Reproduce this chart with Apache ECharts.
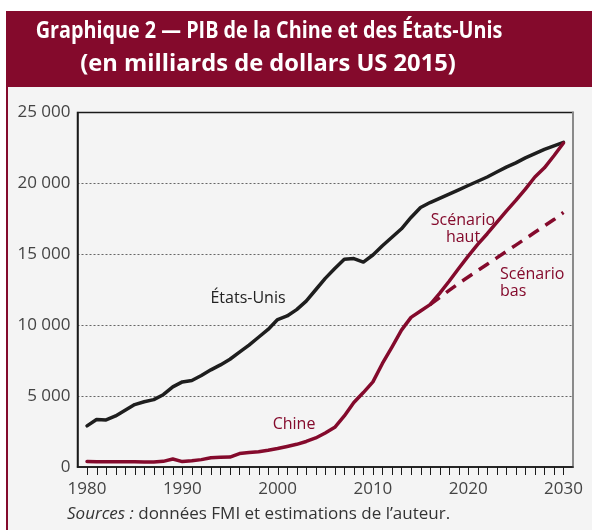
<!DOCTYPE html>
<html>
<head>
<meta charset="utf-8">
<script src="https://cdn.jsdelivr.net/npm/echarts@6/dist/echarts.min.js"></script>
<style>
  html, body { margin: 0; padding: 0; background: #fff; }
  #wrap { position: relative; width: 592px; height: 530px; }
  .band { position: absolute; left: 6px; top: 11px; width: 586px; height: 76px; background: #840a2c; }
  .panel { position: absolute; left: 6px; top: 87px; width: 586px; height: 443px; background: #f4f4f4;
           border-left: 2px solid #840a2c; box-sizing: border-box; }
  #chart { position: absolute; left: 0; top: 0; width: 592px; height: 530px; }
</style>
</head>
<body>
<div id="wrap">
  <div class="band"></div>
  <div class="panel"></div>
  <div id="chart"></div>
</div>
<script>
// années (axe horizontal)
var years = [1980, 1981, 1982, 1983, 1984, 1985, 1986, 1987, 1988, 1989,
  1990, 1991, 1992, 1993, 1994, 1995, 1996, 1997, 1998, 1999,
  2000, 2001, 2002, 2003, 2004, 2005, 2006, 2007, 2008, 2009,
  2010, 2011, 2012, 2013, 2014, 2015, 2016, 2017, 2018, 2019,
  2020, 2021, 2022, 2023, 2024, 2025, 2026, 2027, 2028, 2029, 2030];

// PIB États-Unis 1980-2030 (milliards $ US 2015)
var usGdp = [2900, 3350, 3320, 3600, 4000, 4400, 4600, 4750, 5100, 5650,
  6000, 6100, 6450, 6850, 7200, 7600, 8100, 8600, 9150, 9700,
  10400, 10650, 11100, 11700, 12500, 13300, 14000, 14650, 14700, 14450,
  14950, 15600, 16200, 16800, 17600, 18300, 18650, 18950, 19250, 19550,
  19850, 20150, 20450, 20800, 21150, 21450, 21800, 22100, 22400, 22650, 22900];

// PIB Chine 1980-2016 (historique)
var chinaGdp = [380, 378, 375, 372, 368, 365, 360, 355, 400, 560,
  380, 440, 520, 650, 680, 700, 950, 1020, 1080, 1180,
  1300, 1450, 1600, 1800, 2050, 2400, 2800, 3600, 4550, 5250,
  6000, 7300, 8450, 9650, 10550, 11000, 11450];

// projections Chine 2016-2030
var projYears = [2016, 2017, 2018, 2019, 2020, 2021, 2022, 2023, 2024, 2025, 2026, 2027, 2028, 2029, 2030];
var chinaHigh = [11450, 12250, 13100, 14000, 14870, 15700, 16450, 17250, 18050, 18800, 19600, 20450, 21100, 21950, 22850];
var chinaLow = [11450, 11950, 12450, 12950, 13400, 13850, 14300, 14750, 15200, 15650, 16100, 16550, 17000, 17450, 17950];

var yTicks = [0, 5000, 10000, 15000, 20000, 25000];
var xMin = 1979, xMax = 2031;

var RED = '#840a2c';
var FONT = '"Open Sans", "Noto Sans", sans-serif';
var TITLE_FONT = 'bold 23px "Open Sans", sans-serif';

function pairs(xs, ys) {
  return ys.map(function (v, i) { return [xs[i], v]; });
}
function fmt(v) {
  return String(v).replace(/\B(?=(\d{3})+(?!\d))/g, ' ');
}

var chinaLine = pairs(years, chinaGdp).concat(pairs(projYears.slice(1), chinaHigh.slice(1)));

var texts = [
  {
    type: 'text', x: 269, y: 31, scaleX: 0.86,
    style: {
      text: 'Graphique 2 — PIB de la Chine et des États-Unis',
      fill: '#fff', font: TITLE_FONT, align: 'center', verticalAlign: 'middle'
    }
  },
  {
    type: 'text', x: 268, y: 64, scaleX: 1.03,
    style: {
      text: '(en milliards de dollars US 2015)',
      fill: '#fff', font: TITLE_FONT, align: 'center', verticalAlign: 'middle'
    }
  },
  { type: 'text', x: 248, y: 298, style: { text: 'États-Unis', fill: '#222', font: '16px ' + FONT, align: 'center', verticalAlign: 'middle' } },
  { type: 'text', x: 294, y: 424, style: { text: 'Chine', fill: RED, font: '16px ' + FONT, align: 'center', verticalAlign: 'middle' } },
  { type: 'text', x: 463, y: 229, style: { text: 'Scénario\nhaut', fill: RED, font: '16px ' + FONT, align: 'center', verticalAlign: 'middle', lineHeight: 17 } },
  { type: 'text', x: 500, y: 283, style: { text: 'Scénario\nbas', fill: RED, font: '16px ' + FONT, align: 'left', verticalAlign: 'middle', lineHeight: 17 } },
  {
    type: 'text', x: 67, y: 514,
    style: {
      text: '{i|Sources :} données FMI et estimations de l’auteur.',
      fill: '#333', font: '17px ' + FONT, align: 'left', verticalAlign: 'middle',
      rich: { i: { fontStyle: 'italic', fontFamily: FONT, fontSize: 17, fill: '#333' } }
    }
  }
];

var chart = echarts.init(document.getElementById('chart'));
var option = {
  backgroundColor: 'transparent',
  animation: false,
  // cadre : haut noir, bas/gauche repris par les axes, droite en gris
  grid: { left: 77.5, right: 19, top: 112.5, bottom: 63, show: true, borderColor: '#1a1a1a', borderWidth: 1.5, backgroundColor: 'transparent' },
  xAxis: [{
    type: 'value',
    min: xMin, max: xMax, interval: 1,
    axisLine: { show: true, onZero: false, lineStyle: { color: '#1a1a1a', width: 1.5 } },
    axisTick: { show: false },
    axisLabel: {
      margin: 14, color: '#444', fontFamily: FONT, fontSize: 17,
      formatter: function (v) { return v % 10 === 0 ? String(v) : ''; }
    },
    splitLine: { show: false }
  }],
  yAxis: [{
    type: 'value',
    min: yTicks[0], max: yTicks[yTicks.length - 1], interval: 5000,
    axisLine: { show: true, onZero: false, lineStyle: { color: '#1a1a1a', width: 1.5 } },
    axisTick: { show: false },
    axisLabel: { margin: 7, color: '#444', fontFamily: FONT, fontSize: 17, formatter: fmt },
    splitLine: {
      show: true,
      lineStyle: { color: '#666', type: [2, 2], width: 1 },
      showMinLine: false, showMaxLine: false
    }
  }, {
    type: 'value', position: 'right',
    min: 0, max: 25000,
    axisLine: { show: true, lineStyle: { color: '#8a8a8a', width: 2 } },
    axisTick: { show: false }, axisLabel: { show: false }, splitLine: { show: false }
  }],
  series: [{
    name: 'États-Unis', type: 'line', showSymbol: false, symbol: 'none',
    data: pairs(years, usGdp),
    lineStyle: { color: '#1e1e1e', width: 3.5, cap: 'round', join: 'round' },
    z: 3
  }, {
    name: 'Scénario bas', type: 'line', showSymbol: false, symbol: 'none',
    data: pairs(projYears, chinaLow),
    lineStyle: { color: RED, width: 3.5, type: [12, 8] },
    z: 2
  }, {
    name: 'Chine', type: 'line', showSymbol: false, symbol: 'none',
    data: chinaLine,
    lineStyle: { color: RED, width: 3.5, cap: 'round', join: 'round' },
    z: 4
  }],
  graphic: texts
};
chart.setOption(option);

// graduations annuelles sous l'axe, placées avec l'échelle de l'axe
var y0 = chart.convertToPixel({ yAxisIndex: 0 }, 0);
var ticks = years.map(function (yr) {
  var px = Math.round(chart.convertToPixel({ xAxisIndex: 0 }, yr)) + 0.5;
  return {
    type: 'line', silent: true,
    shape: { x1: px, y1: y0, x2: px, y2: y0 + 8 },
    style: { stroke: '#1a1a1a', lineWidth: 1 }
  };
});
chart.setOption({ graphic: texts.concat(ticks) }, { replaceMerge: ['graphic'] });
</script>
</body>
</html>
